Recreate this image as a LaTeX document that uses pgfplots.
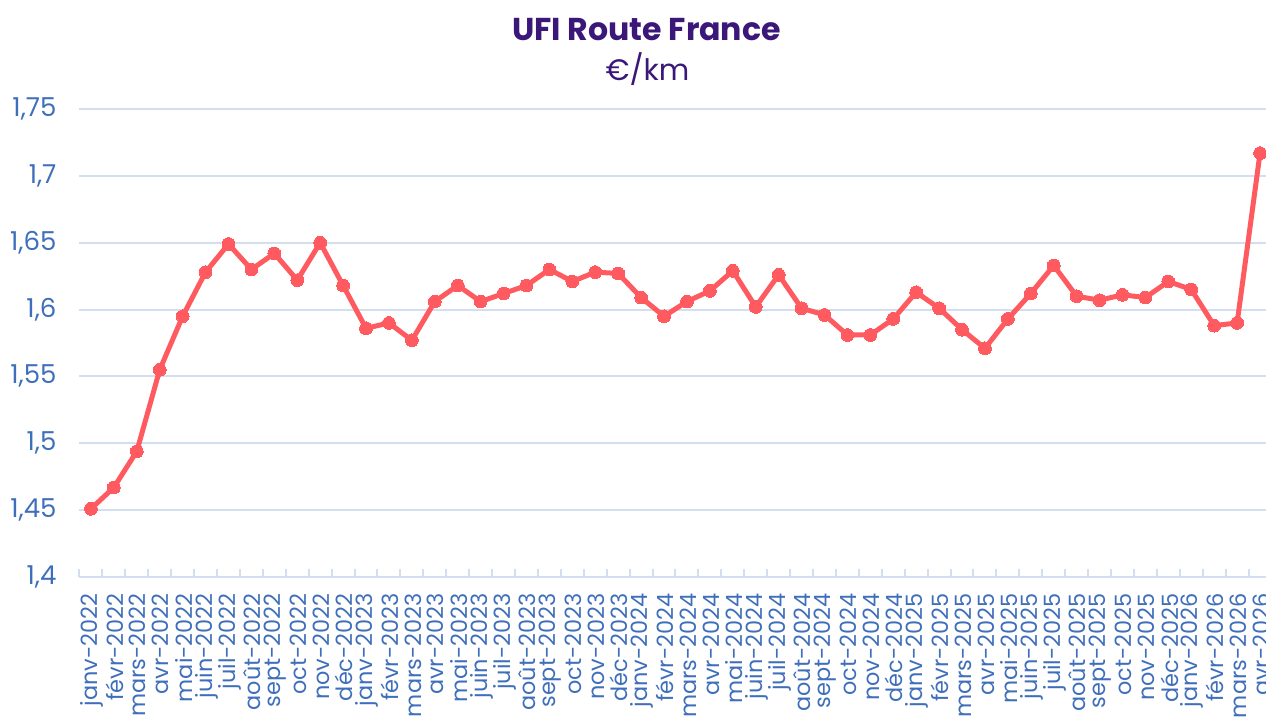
\documentclass[border=0pt]{standalone}
\usepackage{fontspec}
\setmainfont{Poppins}
\usepackage{pgfplots}
\pgfplotsset{compat=1.18}
\definecolor{lignerouge}{HTML}{FF5A5F}
\definecolor{grille}{HTML}{D3DFF1}
\definecolor{etiq}{HTML}{3F6FBA}
\definecolor{titre}{HTML}{3A1778}
\begin{document}
\begin{tikzpicture}
\begin{axis}[
    at={(0,0)}, anchor=south west,
    scale only axis,
    width=596pt, height=234pt,
    xmin=-0.5, xmax=51.5,
    ymin=1.4, ymax=1.75,
    ytick={1.4,1.45,1.5,1.55,1.6,1.65,1.7,1.75},
    yticklabels={{1,4},{1,45},{1,5},{1,55},{1,6},{1,65},{1,7},{1,75}},
    ymajorgrids,
    grid style={grille, line width=1pt},
    axis line style={draw=none},
    axis x line*=bottom,
    x axis line style={draw=grille, line width=1pt},
    y axis line style={draw=none},
    xtick={0,...,51},
    minor xtick={-0.5,0.5,...,51.5},
    major tick length=0pt,
    minor tick length=4pt,
    every minor tick/.style={grille, line width=1pt},
    tick pos=left,
    xticklabels={janv-2022,févr-2022,mars-2022,avr-2022,mai-2022,juin-2022,juil-2022,août-2022,sept-2022,oct-2022,nov-2022,déc-2022,
                 janv-2023,févr-2023,mars-2023,avr-2023,mai-2023,juin-2023,juil-2023,août-2023,sept-2023,oct-2023,nov-2023,déc-2023,
                 janv-2024,févr-2024,mars-2024,avr-2024,mai-2024,juin-2024,juil-2024,août-2024,sept-2024,oct-2024,nov-2024,déc-2024,
                 janv-2025,févr-2025,mars-2025,avr-2025,mai-2025,juin-2025,juil-2025,août-2025,sept-2025,oct-2025,nov-2025,déc-2025,
                 janv-2026,févr-2026,mars-2026,avr-2026},
    x tick label style={rotate=90, anchor=east, font=\fontsize{11.2pt}{11.2pt}\selectfont, text=etiq, inner sep=0pt, yshift=-0.5pt},
    xticklabel shift=8pt,
    y tick label style={font=\fontsize{13pt}{13pt}\selectfont, text=etiq, anchor=east},
    yticklabel shift=8pt,
    clip=false,
]
\addplot[lignerouge, line width=2.5pt, mark=*, mark size=3.2pt, mark options={fill=lignerouge, draw=lignerouge, line width=0pt}] coordinates {
(0,1.451) (1,1.467) (2,1.494) (3,1.555) (4,1.595) (5,1.628) (6,1.649) (7,1.630) (8,1.642) (9,1.622) (10,1.650) (11,1.618)
(12,1.586) (13,1.590) (14,1.577) (15,1.606) (16,1.618) (17,1.606) (18,1.612) (19,1.618) (20,1.630) (21,1.621) (22,1.628) (23,1.627)
(24,1.609) (25,1.595) (26,1.606) (27,1.614) (28,1.629) (29,1.602) (30,1.626) (31,1.601) (32,1.596) (33,1.581) (34,1.581) (35,1.593)
(36,1.613) (37,1.601) (38,1.585) (39,1.571) (40,1.593) (41,1.612) (42,1.633) (43,1.610) (44,1.607) (45,1.611) (46,1.609) (47,1.621)
(48,1.615) (49,1.588) (50,1.590) (51,1.717)
};
\end{axis}
\node[text=titre, font=\fontsize{15.8pt}{15.8pt}\selectfont\bfseries] at (283.5pt,273.5pt) {UFI Route France};
\node[text=titre, font=\fontsize{14.8pt}{14.8pt}\selectfont] at (284pt,254pt) {€/km};
\pgfresetboundingbox
\path[use as bounding box] (-39.75pt,-70pt) rectangle (593.25pt,288.5pt);
\end{tikzpicture}
\end{document}
